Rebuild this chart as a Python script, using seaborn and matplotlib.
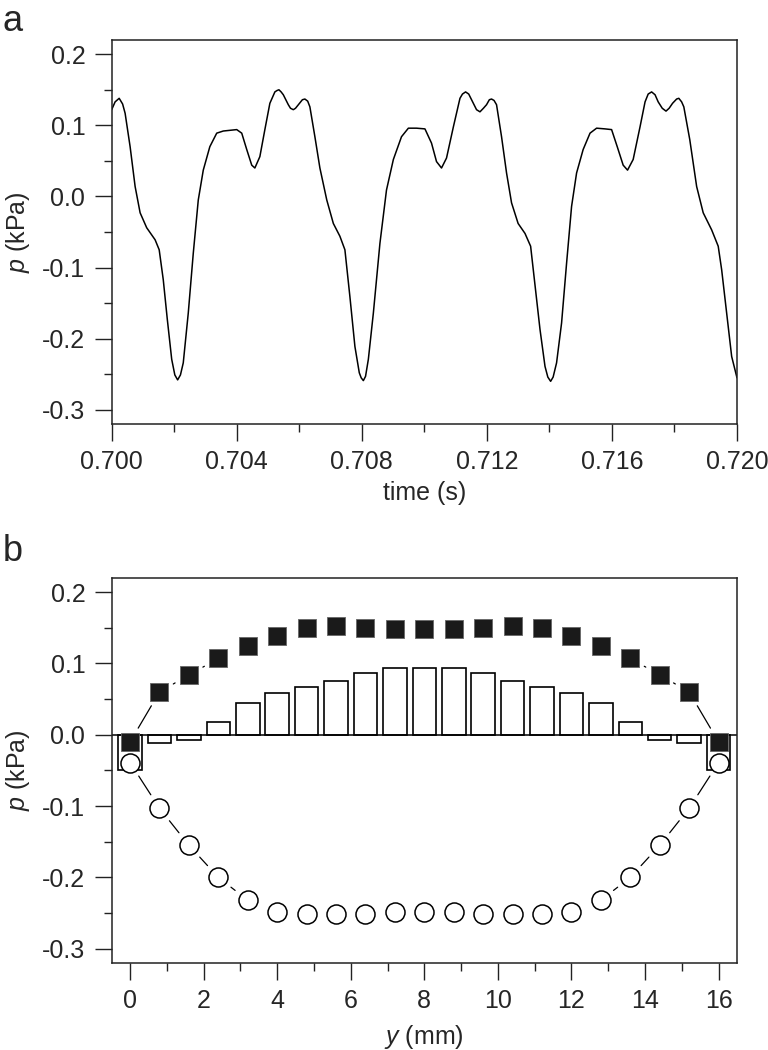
import matplotlib
matplotlib.use("Agg")
import matplotlib.pyplot as plt
import seaborn as sns
import pandas as pd
import numpy as np
from matplotlib.ticker import MultipleLocator, FormatStrFormatter

# --- panel a: pressure trace (time offset in ms after 0.700 s, p in kPa) ---
t_ms = [0.00, 0.11, 0.24, 0.35, 0.43, 0.59, 0.75, 0.91, 1.12, 1.39, 1.52, 1.65,
        1.78, 1.92, 2.02, 2.11, 2.20, 2.29, 2.45, 2.61, 2.77, 2.93, 3.14, 3.36,
        3.57, 3.78, 4.00, 4.16, 4.32, 4.48, 4.58, 4.74, 4.90, 5.06, 5.22, 5.29,
        5.35, 5.42, 5.49, 5.65, 5.72, 5.81, 5.88, 5.97, 6.10, 6.18, 6.27, 6.34,
        6.50, 6.66, 6.88, 7.09, 7.30, 7.46, 7.62, 7.78, 7.92, 7.98, 8.05, 8.12,
        8.21, 8.37, 8.58, 8.79, 9.01, 9.27, 9.49, 9.75, 10.02, 10.23, 10.39,
        10.55, 10.71, 10.93, 11.14, 11.22, 11.32, 11.42, 11.51, 11.67, 11.78,
        11.89, 11.99, 12.08, 12.15, 12.23, 12.31, 12.47, 12.63, 12.79, 13.00,
        13.22, 13.40, 13.54, 13.70, 13.86, 13.95, 14.04, 14.12, 14.23, 14.39,
        14.55, 14.71, 14.87, 15.08, 15.30, 15.51, 15.78, 15.99, 16.17, 16.36,
        16.50, 16.68, 16.90, 17.06, 17.16, 17.27, 17.38, 17.48, 17.61, 17.73,
        17.83, 17.94, 18.07, 18.14, 18.23, 18.30, 18.49, 18.71, 18.92, 19.19,
        19.40, 19.51, 19.67, 19.83, 20.00]
p_trace = [0.122, 0.133, 0.138, 0.130, 0.117, 0.070, 0.014, -0.023, -0.044,
           -0.061, -0.075, -0.117, -0.173, -0.229, -0.251, -0.258, -0.251,
           -0.234, -0.164, -0.080, -0.005, 0.037, 0.070, 0.089, 0.092, 0.093,
           0.094, 0.089, 0.066, 0.044, 0.040, 0.056, 0.094, 0.131, 0.147, 0.149,
           0.150, 0.147, 0.143, 0.129, 0.124, 0.122, 0.124, 0.129, 0.136, 0.137,
           0.134, 0.126, 0.084, 0.040, -0.005, -0.038, -0.056, -0.075, -0.141,
           -0.211, -0.248, -0.255, -0.259, -0.253, -0.229, -0.164, -0.066, 0.009,
           0.052, 0.084, 0.096, 0.096, 0.095, 0.075, 0.049, 0.040, 0.054, 0.098,
           0.138, 0.144, 0.147, 0.144, 0.136, 0.122, 0.119, 0.124, 0.129, 0.136,
           0.137, 0.135, 0.129, 0.084, 0.033, -0.009, -0.038, -0.052, -0.070,
           -0.125, -0.187, -0.239, -0.254, -0.260, -0.254, -0.234, -0.178,
           -0.094, -0.014, 0.033, 0.066, 0.089, 0.096, 0.095, 0.094, 0.070,
           0.044, 0.037, 0.052, 0.098, 0.133, 0.144, 0.147, 0.143, 0.133, 0.124,
           0.120, 0.124, 0.131, 0.137, 0.138, 0.133, 0.126, 0.080, 0.014,
           -0.023, -0.047, -0.070, -0.103, -0.164, -0.225, -0.255]

# --- panel b: profiles across y (mm) ---
y_pos = [0, 0.8, 1.6, 2.4, 3.2, 4.0, 4.8, 5.6, 6.4, 7.2, 8.0,
         8.8, 9.6, 10.4, 11.2, 12.0, 12.8, 13.6, 14.4, 15.2, 16]
p_max = [-0.010, 0.060, 0.084, 0.107, 0.124, 0.139, 0.150, 0.153, 0.150, 0.149,
         0.148, 0.149, 0.150, 0.153, 0.150, 0.139, 0.124, 0.107, 0.084, 0.060,
         -0.010]
p_min = [-0.039, -0.103, -0.155, -0.200, -0.232, -0.248, -0.252, -0.252, -0.251,
         -0.249, -0.249, -0.249, -0.251, -0.252, -0.252, -0.248, -0.232, -0.200,
         -0.155, -0.103, -0.039]
p_mean = [-0.049, -0.012, -0.008, 0.018, 0.044, 0.058, 0.067, 0.076, 0.087,
          0.093, 0.094, 0.093, 0.087, 0.076, 0.067, 0.058, 0.044, 0.018, -0.008,
          -0.012, -0.049]

sns.set_theme(style="ticks")
plt.rcParams["font.family"] = ["Liberation Sans", "DejaVu Sans"]
plt.rcParams["mathtext.fontset"] = "custom"
plt.rcParams["mathtext.rm"] = "Liberation Sans"
plt.rcParams["mathtext.it"] = "Liberation Sans:italic"
plt.rcParams["axes.unicode_minus"] = False

FS = 18
EDGE = "#222222"


def style_axis(ax):
    for s in ax.spines.values():
        s.set_color(EDGE)
        s.set_linewidth(1.1)
    ax.tick_params(which="major", length=12, width=1.0, color=EDGE,
                   labelsize=FS, pad=7, direction="out")
    ax.tick_params(which="minor", length=6, width=1.0, color=EDGE,
                   direction="out")
    ax.tick_params(axis="both", which="both", top=False, right=False)
    ax.yaxis.set_major_locator(MultipleLocator(0.1))
    ax.yaxis.set_minor_locator(MultipleLocator(0.05))
    ax.yaxis.set_major_formatter(FormatStrFormatter("%.1f"))
    ax.set_ylim(-0.32, 0.22)
    ax.set_ylabel("$p$ (kPa)", fontsize=FS)
    ax.yaxis.set_label_coords(-0.128, 0.5)
    ax.grid(False)


def gapped(ax, xs, ys, gap):
    # line pieces between symbols, with a gap left around each symbol
    pts = ax.transData.transform(np.column_stack([xs, ys]))
    inv = ax.transData.inverted()
    rows = []
    for i in range(len(pts) - 1):
        d = pts[i + 1] - pts[i]
        L = np.hypot(*d)
        if L <= 2 * gap:
            continue
        u = d / L
        a, b = inv.transform([pts[i] + u * gap, pts[i + 1] - u * gap])
        rows.append(dict(x=a[0], y=a[1], seg=i))
        rows.append(dict(x=b[0], y=b[1], seg=i))
    return pd.DataFrame(rows)


fig = plt.figure(figsize=(7.68, 10.5), dpi=100)
ax1 = fig.add_axes([0.1454, 0.5962, 0.8142, 0.3657])
ax2 = fig.add_axes([0.1454, 0.0829, 0.8142, 0.3667])

# panel a
trace = pd.DataFrame({"t": [0.700 + v / 1000 for v in t_ms], "p": p_trace})
sns.lineplot(data=trace, x="t", y="p", color="black", linewidth=1.1, ax=ax1)
ax1.set_xlim(0.700, 0.720)
ax1.xaxis.set_major_locator(MultipleLocator(0.004))
ax1.xaxis.set_minor_locator(MultipleLocator(0.002))
ax1.xaxis.set_major_formatter(FormatStrFormatter("%.3f"))
style_axis(ax1)
ax1.set_xlabel("time (s)", fontsize=FS, labelpad=5)

# panel b
ax2.set_xlim(-0.5, 16.5)
ax2.set_ylim(-0.32, 0.22)
sns.barplot(x=y_pos, y=p_mean, native_scale=True, width=0.8, orient="x",
            color="white", saturation=1, edgecolor="black", linewidth=1.2,
            errorbar=None, ax=ax2, zorder=1)
ax2.axhline(0, color="black", linewidth=1.1, zorder=2)

seg_max = gapped(ax2, y_pos, p_max, 16)
seg_min = gapped(ax2, y_pos, p_min, 16)
sns.lineplot(data=seg_max, x="x", y="y", units="seg", estimator=None,
             color="black", linewidth=0.9, ax=ax2, zorder=3)
sns.lineplot(data=seg_min, x="x", y="y", units="seg", estimator=None,
             color="black", linewidth=0.9, ax=ax2, zorder=3)

sns.scatterplot(x=y_pos, y=p_max, marker="s", s=12.7 ** 2, color="#1a1a1a",
                edgecolor="#666666", linewidth=0.6, ax=ax2, zorder=4)
sns.scatterplot(x=y_pos, y=p_min, marker="o", s=13.7 ** 2, color="white",
                edgecolor="black", linewidth=1.1, ax=ax2, zorder=4)

ax2.set_xlim(-0.5, 16.5)
ax2.xaxis.set_major_locator(MultipleLocator(2))
ax2.xaxis.set_minor_locator(MultipleLocator(1))
ax2.xaxis.set_major_formatter(FormatStrFormatter("%d"))
style_axis(ax2)
ax2.set_xlabel("$y$ (mm)", fontsize=FS, labelpad=7)

fig.text(0.003, 1 - 31 / 1050, "a", fontsize=26, va="baseline", ha="left")
fig.text(0.003, 1 - 561 / 1050, "b", fontsize=26, va="baseline", ha="left")

fig.savefig("out.png", dpi=100)
